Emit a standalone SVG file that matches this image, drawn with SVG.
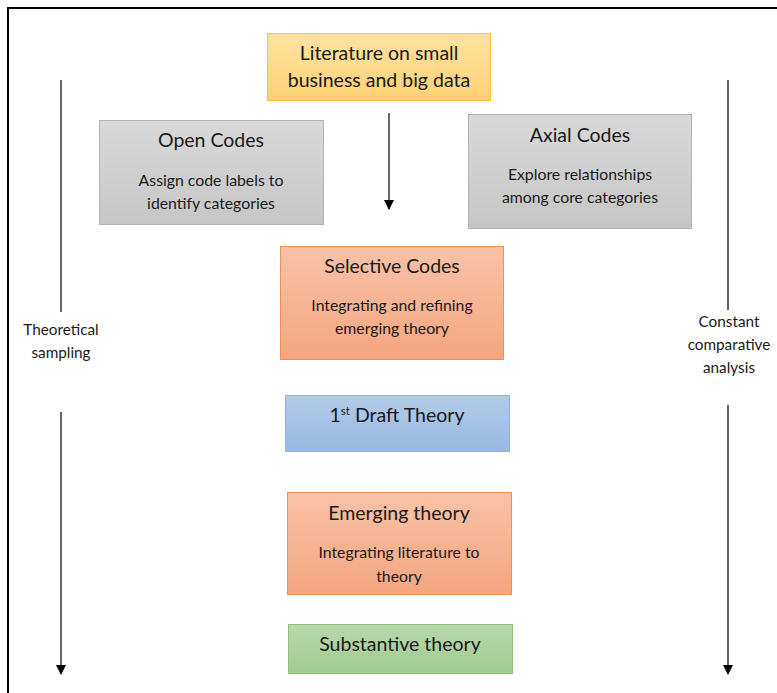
<svg xmlns="http://www.w3.org/2000/svg" width="777" height="693" viewBox="0 0 777 693">
<defs>
<linearGradient id="gy" x1="0" y1="0" x2="0" y2="1"><stop offset="0" stop-color="#d9d9d9"/><stop offset="1" stop-color="#c6c6c6"/></linearGradient>
<linearGradient id="gr" x1="0" y1="0" x2="0" y2="1"><stop offset="0" stop-color="#f8c2a7"/><stop offset="1" stop-color="#f4a680"/></linearGradient>
<linearGradient id="gb" x1="0" y1="0" x2="0" y2="1"><stop offset="0" stop-color="#b3cbea"/><stop offset="1" stop-color="#97b9e1"/></linearGradient>
<linearGradient id="gg" x1="0" y1="0" x2="0" y2="1"><stop offset="0" stop-color="#b8d8ab"/><stop offset="1" stop-color="#a2cb8f"/></linearGradient>
<linearGradient id="gyel" x1="0" y1="0" x2="0" y2="1"><stop offset="0" stop-color="#fee3a1"/><stop offset="1" stop-color="#fed175"/></linearGradient>
<marker id="ah" markerWidth="10" markerHeight="10" refX="9" refY="5" orient="auto" markerUnits="userSpaceOnUse" viewBox="0 0 10 10"><path d="M0,0 L10,5 L0,10 Z" fill="#000"/></marker>
<style>
text{font-family:"Lato","Open Sans","Liberation Sans",sans-serif;fill:#1a1a1a;text-anchor:middle}
.t{font-size:19.5px}
.s{font-size:15.8px}
.l{font-size:15.3px}
.ln{stroke:#000;stroke-width:1.2;fill:none}
</style>
</defs>
<rect width="777" height="693" fill="#fff"/>
<rect x="8" y="8" width="790" height="700" fill="none" stroke="#000" stroke-width="2"/>
<g id="connectors">
<line class="ln" x1="61" y1="80" x2="61" y2="312"/>
<line class="ln" x1="61" y1="412" x2="61" y2="674" marker-end="url(#ah)"/>
<line class="ln" x1="728" y1="80" x2="728" y2="310"/>
<line class="ln" x1="728" y1="405" x2="728" y2="674" marker-end="url(#ah)"/>
<line class="ln" x1="389" y1="113" x2="389" y2="209" marker-end="url(#ah)"/>
</g>
<g id="literature">
<rect x="267.5" y="33.5" width="223" height="67" fill="url(#gyel)" stroke="#fcc33a"/>
<text class="t" x="379" y="60">Literature on small</text>
<text class="t" x="379" y="87">business and big data</text>
</g>
<g id="open">
<rect x="99.5" y="120.5" width="224" height="104" fill="url(#gy)" stroke="#b3b3b3"/>
<text class="t" x="211" y="147">Open Codes</text>
<text class="s" x="211" y="186">Assign code labels to</text>
<text class="s" x="211" y="209">identify categories</text>
</g>
<g id="axial">
<rect x="468.5" y="114.5" width="223" height="114" fill="url(#gy)" stroke="#b3b3b3"/>
<text class="t" x="580" y="142">Axial Codes</text>
<text class="s" x="580" y="180">Explore relationships</text>
<text class="s" x="580" y="203">among core categories</text>
</g>
<g id="selective">
<rect x="280.5" y="246.5" width="223" height="113" fill="url(#gr)" stroke="#f39150"/>
<text class="t" x="392" y="273">Selective Codes</text>
<text class="s" x="392" y="311">Integrating and refining</text>
<text class="s" x="392" y="334">emerging theory</text>
</g>
<g id="draft">
<rect x="285.5" y="395.5" width="224" height="56" fill="url(#gb)" stroke="#8eb3e0"/>
<text class="t" x="397" y="422">1<tspan font-size="11.5" dy="-7">st</tspan><tspan dy="7"> Draft Theory</tspan></text>
</g>
<g id="emerging">
<rect x="287.5" y="492.5" width="224" height="102" fill="url(#gr)" stroke="#f39150"/>
<text class="t" x="399" y="520">Emerging theory</text>
<text class="s" x="399" y="558">Integrating literature to</text>
<text class="s" x="399" y="582">theory</text>
</g>
<g id="substantive">
<rect x="288.5" y="624.5" width="224" height="49" fill="url(#gg)" stroke="#8fc27a"/>
<text class="t" x="400" y="651">Substantive theory</text>
</g>
<g id="sampling">
<text class="l" x="61" y="335">Theoretical</text>
<text class="l" x="61" y="358">sampling</text>
</g>
<g id="comparative">
<text class="l" x="729" y="327">Constant</text>
<text class="l" x="729" y="350">comparative</text>
<text class="l" x="729" y="373">analysis</text>
</g>
</svg>
